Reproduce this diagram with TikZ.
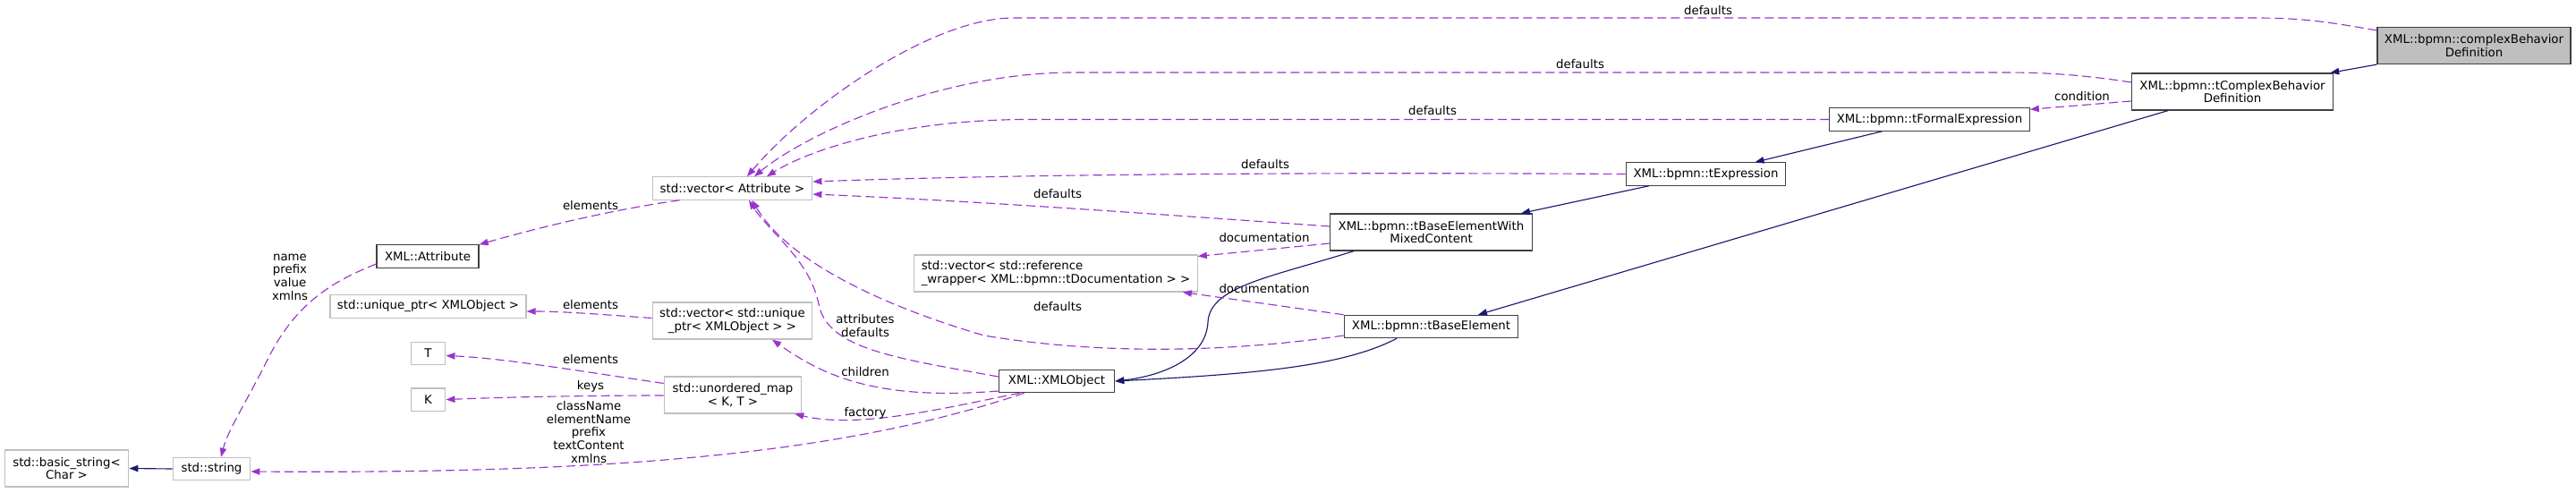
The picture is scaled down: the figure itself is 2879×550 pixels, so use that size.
\documentclass[tikz,border=0pt]{standalone}
\usepackage{fontspec}
\setmainfont{DejaVu Sans}
\usetikzlibrary{positioning, arrows.meta, calc}
\definecolor{orchid}{HTML}{9A32CD}
\definecolor{midnight}{HTML}{191970}
\definecolor{extgray}{HTML}{BFBFBF}
\definecolor{docgray}{HTML}{404040}

\begin{document}
\begin{tikzpicture}[
  x=0.75pt, y=-0.75pt,
  font=\fontsize{10pt}{11pt}\selectfont,
  >={Triangle[length=7.5pt, width=5.5pt]},
  % --- node styles ---
  ext/.style={
    draw=extgray, line width=0.9pt, fill=white,
    minimum height=19pt, inner xsep=6pt, inner ysep=2pt, align=center
  },
  cls/.style={
    ext, draw=docgray
  },
  focus/.style={
    cls, fill=extgray
  },
  tall/.style={minimum height=30.75pt},
  lbl/.style={align=center, inner sep=0pt},
  % --- edge styles ---
  inh/.style={->, draw=midnight, line width=0.85pt},
  uses/.style={->, draw=orchid, line width=0.85pt,
    dash pattern=on 7.5pt off 3.75pt},
]

\useasboundingbox (0,0) rectangle (2879,550);

% ══════════════════════════════════════════════
% BPMN CLASSES (right)
% ══════════════════════════════════════════════

\node[focus, tall, minimum width=162pt] (cbd) at (2765,51)
  {XML::bpmn::complexBehavior\\Definition};
\node[cls, tall, minimum width=169pt] (tcbd) at (2495,102.5)
  {XML::bpmn::tComplexBehavior\\Definition};
\node[cls, minimum width=167pt] (tfe) at (2156.5,133.5) {XML::bpmn::tFormalExpression};
\node[cls, minimum width=134pt] (texp) at (1906.5,194.5) {XML::bpmn::tExpression};
\node[cls, tall, minimum width=169pt] (tbewmc) at (1599.5,259.5)
  {XML::bpmn::tBaseElementWith\\MixedContent};
\node[cls, minimum width=146pt] (tbe) at (1599.5,365) {XML::bpmn::tBaseElement};
\node[cls, minimum width=97pt] (xmlobj) at (1181,426) {XML::XMLObject};

% ══════════════════════════════════════════════
% MEMBER TYPES (middle / left)
% ══════════════════════════════════════════════

\node[ext, minimum width=134pt] (vattr) at (818.5,210.5) {std::vector< Attribute >};
\node[ext, tall, minimum width=235.5pt, align=left] (vref) at (1180,305.5)
  {std::vector< std::reference\\\_wrapper< XML::bpmn::tDocumentation > >};
\node[ext, tall, minimum width=134pt] (vuptr) at (818.5,358.5)
  {std::vector< std::unique\\\_ptr< XMLObject > >};
\node[ext, tall, minimum width=115pt] (umap) at (819,441.5)
  {std::unordered\_map\\< K, T >};

\node[cls, minimum width=85.5pt] (attr) at (478,286.5) {XML::Attribute};
\node[ext, minimum width=164pt] (uptr) at (478.5,342.5) {std::unique\_ptr< XMLObject >};
\node[ext, minimum width=29pt, below=19.5pt of uptr] (tT) {T};
\node[ext, minimum width=29pt, below=18.75pt of tT] (tK) {K};

\node[ext, minimum width=65pt] (str) at (236.5,524) {std::string};
\node[ext, tall, minimum width=104pt] (bstr) at (74.5,523.5) {std::basic\_string<\\Char >};

% ══════════════════════════════════════════════
% INHERITANCE
% ══════════════════════════════════════════════

\draw[inh] (cbd.south west) -- ($(tcbd.north east)+(-4,0)$);
\draw[inh] ($(tfe.south)+(-53,0)$) -- ($(texp.north)+(55,0)$);
\draw[inh] ($(texp.south)+(-63.5,0)$) -- ($(tbewmc.north)+(100.5,0)$);
\draw[inh] ($(tcbd.south)+(-72,0)$) -- ($(tbe.north)+(52.5,0)$);
\draw[inh] ($(tbewmc.south)+(-86.5,0)$) .. controls (1420,310) and (1352,320) .. (1350,360)
  .. controls (1348,400) and (1300,420) .. (xmlobj.east);
\draw[inh] ($(tbe.south)+(-38.5,0)$) .. controls (1500,410) and (1400,418) .. (xmlobj.east);
\draw[inh] (str.west) -- (bstr.east);

% ══════════════════════════════════════════════
% USAGE (defaults into std::vector< Attribute >)
% ══════════════════════════════════════════════

\draw[uses] ($(cbd.west)+(0,-17)$) .. controls (2600,24) and (2570,20) .. (2520,20)
  -- (1133,20) .. controls (1040,20) and (900,120) .. ($(vattr.north)+(16.5,0)$);
\draw[uses] ($(tcbd.west)+(0,-10.5)$) .. controls (2330,84) and (2290,81) .. (2240,81)
  -- (1200,81) .. controls (1050,81) and (900,150) .. ($(vattr.north)+(24.5,0)$);
\draw[uses] (tfe.west) -- (1150,133.5)
  .. controls (1000,133.5) and (900,170) .. ($(vattr.north)+(38.5,0)$);
\draw[uses] (texp.west) .. controls (1400,192) and (1100,196) .. ($(vattr.east)+(0,-7.5)$);
\draw[uses] ($(tbewmc.west)+(0,-6.5)$) .. controls (1300,240) and (1100,225) .. ($(vattr.east)+(0,6.5)$);
\draw[uses] ($(tbe.west)+(0,10)$) .. controls (1400,390) and (1250,400) .. (1100,375)
  .. controls (980,340) and (880,290) .. ($(vattr.south)+(22,0)$);
\draw[uses] ($(xmlobj.west)+(0,-5)$) .. controls (1000,400) and (925,390) .. (915,340)
  .. controls (905,290) and (860,260) .. ($(vattr.south)+(18.5,0)$);

\node[lbl] (lcbd) at (1909,12) {defaults};
\node[lbl] (ltcbd) at (1766,72) {defaults};
\node[lbl] (ltfe) at (1601,124) {defaults};
\node[lbl] (ltexp) at (1414,184) {defaults};
\node[lbl] (ltbewmc) at (1182,217) {defaults};
\node[lbl] (ltbe) at (1182,343) {defaults};
\node[lbl] (lattrs) at (967,364) {attributes\\defaults};

% ══════════════════════════════════════════════
% USAGE (other members)
% ══════════════════════════════════════════════

\draw[uses] ($(tcbd.west)+(0,10.5)$) -- ($(tfe.north east)+(0,2)$);
\draw[uses] ($(tbewmc.west)+(0,12.5)$) -- ($(vref.north east)+(0,2)$);
\draw[uses] (tbe.north west) -- ($(vref.south east)+(-17,0)$);
\draw[uses] ($(xmlobj.west)+(0,11)$) .. controls (980,448) and (920,420) .. ($(vuptr.south)+(44.5,0)$);
\draw[uses] ($(xmlobj.south west)+(24,0)$) .. controls (1060,455) and (960,480) .. ($(umap.south east)+(-8,0)$);
\draw[uses] ($(xmlobj.south west)+(29,0)$) .. controls (950,505) and (700,530) .. ($(str.east)+(0,3)$);
\draw[uses] ($(attr.west)+(0,8.5)$) .. controls (370,315) and (330,340) .. (300,400)
  .. controls (275,450) and (255,480) .. ($(str.north)+(10.5,0)$);
\draw[uses] ($(vattr.south west)+(31,0)$) .. controls (680,235) and (600,255) .. (attr.north east);
\draw[uses] ($(vuptr.west)+(0,-3)$) .. controls (680,352) and (630,348) .. ($(uptr.east)+(0,5.5)$);
\draw[uses] ($(umap.west)+(0,-13)$) .. controls (650,415) and (560,400) .. ($(tT.east)+(0,2.5)$);
\draw[uses] ($(umap.west)+(0,0.5)$) .. controls (650,442) and (560,444) .. (tK.east);

\node[lbl] (lcond) at (2327,108) {condition};
\node[lbl] (ldoc1) at (1413,266) {documentation};
\node[lbl] (ldoc2) at (1413,323) {documentation};
\node[lbl] (lchild) at (967,416) {children};
\node[lbl] (lfact) at (967,462) {factory};
\node[lbl] (lelem1) at (660,230) {elements};
\node[lbl] (lelem2) at (660,341) {elements};
\node[lbl] (lelem3) at (660,402) {elements};
\node[lbl] (lkeys) at (660,432) {keys};
\node[lbl] (lobjstr) at (658,483) {className\\elementName\\prefix\\textContent\\xmlns};
\node[lbl] (lattrstr) at (324,309.5) {name\\prefix\\value\\xmlns};

\end{tikzpicture}
\end{document}
